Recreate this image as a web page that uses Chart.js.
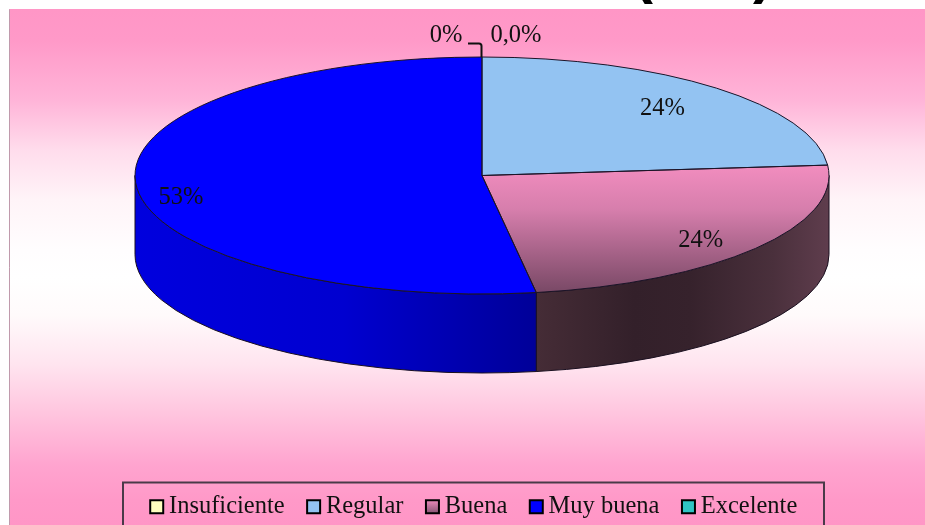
<!DOCTYPE html>
<html>
<head>
<meta charset="utf-8">
<script src="https://cdn.jsdelivr.net/npm/chart.js@4"></script>
<style>
  html, body { margin: 0; padding: 0; background: #fff; overflow: hidden; }
  canvas { display: block; }
</style>
</head>
<body>
<canvas id="pie" width="925" height="525"></canvas>
<script>
const categories = ['Insuficiente', 'Regular', 'Buena', 'Muy buena', 'Excelente'];
const values = [0, 23.6, 23.9, 52.5, 0];
const valueLabels = ['0%', '24%', '24%', '53%', '0,0%'];
const colors = ['#ffffc0', '#93c3f2', '#c07aa0', '#0000ff', '#2fc4c4'];

// the flattened disc as it sits on the page
const cx = 482, cy = 175.5, rx = 347, ry = 118.5, depth = 79;
const serif = '"Liberation Serif", "Times New Roman", serif';

function buenaTop(chart) {
  const area = chart.chartArea;
  if (!area) return colors[2];
  const r = Math.min(area.width, area.height) / 2;
  const midY = (area.top + area.bottom) / 2;
  const g = chart.ctx.createLinearGradient(0, midY + (165 - cy) * r / ry, 0, midY + (293 - cy) * r / ry);
  g.addColorStop(0, '#f28dbf');
  g.addColorStop(0.35, '#d67eac');
  g.addColorStop(1, '#784865');
  return g;
}

function sideFill(ctx, index) {
  const g = ctx.createLinearGradient(cx - rx, 0, cx + rx, 0);
  if (index === 2) {
    g.addColorStop(0.58, '#452c36');
    g.addColorStop(0.72, '#33202a');
    g.addColorStop(0.8, '#36222c');
    g.addColorStop(0.92, '#4a303c');
    g.addColorStop(1, '#5f3d4d');
  } else {
    g.addColorStop(0, '#0000de');
    g.addColorStop(0.3, '#0000d0');
    g.addColorStop(0.58, '#000098');
  }
  return g;
}

const disc3d = {
  id: 'disc3d',
  beforeDraw(chart) {
    const ctx = chart.ctx;
    const g = ctx.createLinearGradient(0, 9, 0, 525);
    [[0, '#ff96c6'], [0.06, '#ff99c8'], [0.176, '#ffb4d8'], [0.273, '#ffdcec'], [0.37, '#fff4f8'],
     [0.467, '#fffdfe'], [0.52, '#ffffff'], [0.593, '#fffafb'], [0.69, '#ffe4ef'], [0.787, '#ffc4de'],
     [0.884, '#ffa4cf'], [0.952, '#ff99c8'], [1, '#ff96c6']]
      .forEach(s => g.addColorStop(s[0], s[1]));
    ctx.save();
    ctx.fillStyle = g;
    ctx.fillRect(9, 9, 916, 516);
    ctx.strokeStyle = '#c09aac';
    ctx.lineWidth = 1;
    ctx.beginPath();
    ctx.moveTo(9.5, 525);
    ctx.lineTo(9.5, 9.5);
    ctx.stroke();
    // bottoms of the cropped heading brackets
    ctx.fillStyle = '#000';
    ctx.font = 'bold 60px "Liberation Sans", Arial, sans-serif';
    ctx.textBaseline = 'alphabetic';
    ctx.textAlign = 'center';
    ctx.fillText('(', 643, -8);
    ctx.fillText(')', 763, -8);
    ctx.restore();
  },
  beforeDatasetsDraw(chart) {
    const ctx = chart.ctx;
    const arcs = chart.getDatasetMeta(0).data;
    // side wall, only the half of the rim that faces the viewer
    arcs.forEach((el, i) => {
      if (!values[i]) return;
      const a0 = Math.max(el.startAngle, 0);
      const a1 = Math.min(el.endAngle, Math.PI);
      if (a1 <= a0) return;
      ctx.save();
      ctx.beginPath();
      ctx.ellipse(cx, cy, rx, ry, 0, a0, a1);
      ctx.ellipse(cx, cy + depth, rx, ry, 0, a1, a0, true);
      ctx.closePath();
      ctx.fillStyle = sideFill(ctx, i);
      ctx.strokeStyle = '#1a1020';
      ctx.lineWidth = 1;
      ctx.fill();
      ctx.stroke();
      ctx.restore();
    });
    const first = arcs[0];
    ctx.save();
    ctx.translate(cx, cy);
    ctx.scale(rx / first.outerRadius, ry / first.outerRadius);
    ctx.translate(-first.x, -first.y);
  },
  afterDatasetsDraw(chart) {
    const ctx = chart.ctx;
    ctx.restore();
    const arcs = chart.getDatasetMeta(0).data;
    ctx.save();
    ctx.strokeStyle = '#1c1428';
    ctx.lineWidth = 1;
    arcs.forEach((el, i) => {
      if (!values[i]) return;
      ctx.beginPath();
      ctx.moveTo(cx, cy);
      ctx.ellipse(cx, cy, rx, ry, 0, el.startAngle, el.endAngle);
      ctx.closePath();
      ctx.stroke();
    });
    ctx.restore();
  },
  afterDraw(chart) {
    const ctx = chart.ctx;
    const arcs = chart.getDatasetMeta(0).data;
    const reach = [0, 0.77, 0.8, 0.87, 0];
    const nudge = [0, 0, 7, 14, 0];
    ctx.save();
    // leader for the two empty slices
    ctx.strokeStyle = '#111';
    ctx.lineWidth = 2;
    ctx.beginPath();
    ctx.moveTo(cx - 0.5, cy - ry);
    ctx.lineTo(cx - 0.5, 46);
    ctx.quadraticCurveTo(cx - 0.5, 43.5, cx - 3, 43.5);
    ctx.lineTo(468, 43.5);
    ctx.stroke();

    ctx.fillStyle = '#111';
    ctx.font = '24.5px ' + serif;
    ctx.textAlign = 'center';
    ctx.textBaseline = 'middle';
    valueLabels.forEach((text, i) => {
      if (!values[i]) {
        ctx.fillText(text, i === 0 ? 446 : 516, 36);
        return;
      }
      const mid = (arcs[i].startAngle + arcs[i].endAngle) / 2;
      ctx.fillText(text, cx + Math.cos(mid) * rx * reach[i], cy + Math.sin(mid) * ry * reach[i] + nudge[i]);
    });

    // legend frame, runs off the bottom of the picture
    ctx.strokeStyle = '#4a3a48';
    ctx.lineWidth = 2;
    ctx.beginPath();
    ctx.moveTo(123, 525);
    ctx.lineTo(123, 482.5);
    ctx.lineTo(824, 482.5);
    ctx.lineTo(824, 525);
    ctx.stroke();
    ctx.restore();
  }
};

new Chart(document.getElementById('pie'), {
  type: 'pie',
  data: {
    labels: categories,
    datasets: [{
      data: values,
      backgroundColor: ctx => ctx.dataIndex === 2 ? buenaTop(ctx.chart) : colors[ctx.dataIndex],
      borderWidth: 0,
      clip: false
    }]
  },
  options: {
    responsive: false,
    animation: false,
    events: [],
    layout: { padding: { left: 29, bottom: -4 } },
    plugins: {
      tooltip: { enabled: false },
      legend: {
        position: 'bottom',
        labels: {
          usePointStyle: true,
          pointStyle: 'rect',
          boxWidth: 0.01,
          boxHeight: 13,
          padding: 29,
          color: '#111',
          font: { family: serif, size: 24.5 },
          generateLabels(chart) {
            const items = Chart.overrides.pie.plugins.legend.labels.generateLabels(chart);
            items.forEach((item, i) => {
              item.fillStyle = colors[i];
              item.strokeStyle = '#000';
              item.lineWidth = 2;
              item.pointStyle = 'rect';
              if (i === 2) {
                const g = chart.ctx.createLinearGradient(0, 498, 0, 512);
                g.addColorStop(0.1, '#f28dbf');
                g.addColorStop(1, '#905a7a');
                item.fillStyle = g;
              }
            });
            return items;
          }
        }
      }
    }
  },
  plugins: [disc3d]
});
</script>
</body>
</html>
